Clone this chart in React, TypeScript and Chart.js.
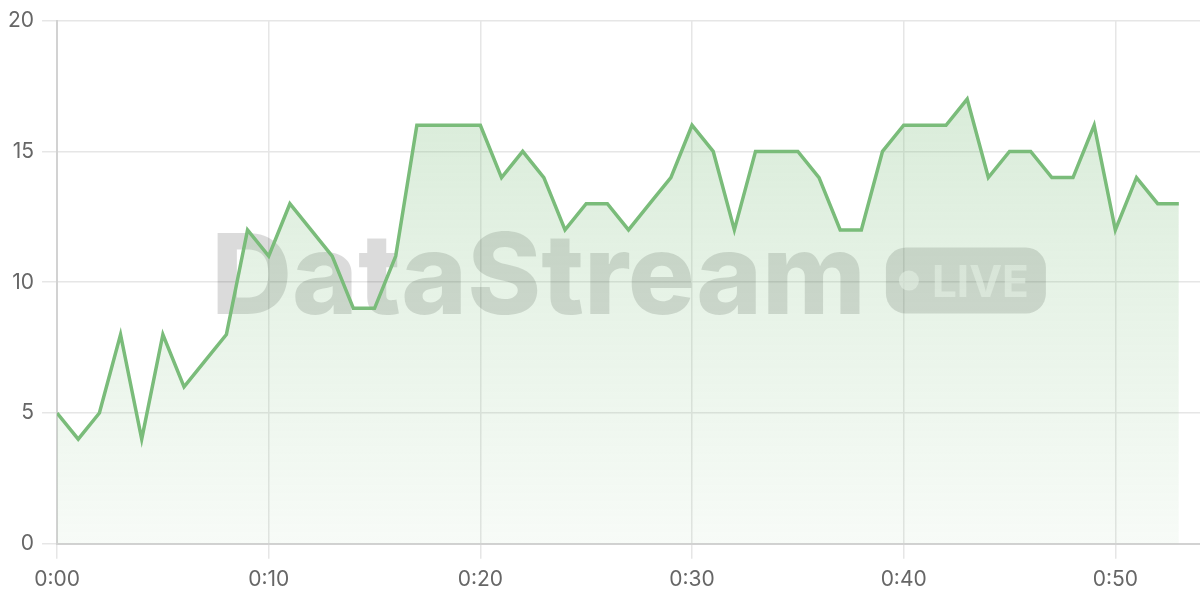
import React, { useEffect, useRef } from "react";
import { Chart, registerables } from "chart.js";

Chart.register(...registerables);

const values: number[] = [
  5, 4, 5, 8, 4, 8, 6, 7, 8, 12,
  11, 13, 12, 11, 9, 9, 11, 16, 16, 16,
  16, 14, 15, 14, 12, 13, 13, 12, 13, 14,
  16, 15, 12, 15, 15, 15, 14, 12, 12, 15,
  16, 16, 16, 17, 14, 15, 15, 14, 14, 16,
  12, 14, 13, 13,
];
const xTickValues: number[] = [0, 10, 20, 30, 40, 50];
const yTickValues: number[] = [0, 5, 10, 15, 20];
const watermarkText = "DataStream";
const liveText = "LIVE";

const FONT = "Inter, 'Noto Sans', sans-serif";

const watermarkPlugin = {
  id: "watermark",
  beforeDatasetsDraw(chart: any) {
    const { ctx, chartArea } = chart;
    const { left, right, top, bottom } = chartArea;
    ctx.save();
    const fs = 112;
    ctx.font = `800 ${fs}px ${FONT}`;
    const tw = ctx.measureText(watermarkText).width;
    const gap = 20;
    const pillW = 160;
    const pillH = 66;
    const total = tw + gap + pillW;
    const cx = (left + right) / 2;
    const baseline = top + (bottom - top) * 0.56;
    const x0 = cx - total / 2;
    ctx.fillStyle = "rgba(0,0,0,0.14)";
    ctx.textBaseline = "alphabetic";
    ctx.textAlign = "left";
    ctx.fillText(watermarkText, x0, baseline);
    // pill
    const px = x0 + tw + gap;
    const py = baseline - pillH;
    const r = 20;
    ctx.beginPath();
    ctx.moveTo(px + r, py);
    ctx.lineTo(px + pillW - r, py);
    ctx.arcTo(px + pillW, py, px + pillW, py + r, r);
    ctx.lineTo(px + pillW, py + pillH - r);
    ctx.arcTo(px + pillW, py + pillH, px + pillW - r, py + pillH, r);
    ctx.lineTo(px + r, py + pillH);
    ctx.arcTo(px, py + pillH, px, py + pillH - r, r);
    ctx.lineTo(px, py + r);
    ctx.arcTo(px, py, px + r, py, r);
    ctx.closePath();
    ctx.fillStyle = "rgba(0,0,0,0.14)";
    ctx.fill();
    ctx.fillStyle = "rgba(255,255,255,0.55)";
    ctx.beginPath();
    ctx.arc(px + 23, py + pillH / 2, 10, 0, Math.PI * 2);
    ctx.fill();
    ctx.font = `bold 44px ${FONT}`;
    ctx.fillText(liveText, px + 46, py + pillH / 2 + 16);
    ctx.restore();
  },
};

export default function App() {
  const canvasRef = useRef<HTMLCanvasElement | null>(null);

  useEffect(() => {
    document.body.style.margin = "0";
    const canvas = canvasRef.current;
    if (!canvas) return;
    const chart = new Chart(canvas, {
      type: "line",
      data: {
        datasets: [
          {
            data: values.map((v, i) => ({ x: i, y: v })),
            borderColor: "rgb(122,188,122)",
            borderWidth: 3.5,
            pointRadius: 0,
            tension: 0,
            fill: true,
            backgroundColor: (context: any) => {
              const c = context.chart;
              const area = c.chartArea;
              if (!area) return "rgba(122,188,122,0.15)";
              const g = c.ctx.createLinearGradient(0, area.top, 0, area.bottom);
              g.addColorStop(0, "rgba(122,188,122,0.32)");
              g.addColorStop(1, "rgba(122,188,122,0.06)");
              return g;
            },
          },
        ],
      },
      options: {
        animation: false,
        responsive: false,
        maintainAspectRatio: false,
        layout: { padding: { top: 13, right: 0, left: 0, bottom: 0 } },
        plugins: {
          legend: { display: false },
          tooltip: { enabled: false },
        },
        scales: {
          x: {
            type: "linear",
            min: 0,
            max: 54,
            afterBuildTicks: (axis: any) => {
              axis.ticks = xTickValues.map((v) => ({ value: v }));
            },
            ticks: {
              color: "#666",
              font: { family: FONT, size: 21 },
              padding: 8,
              maxRotation: 0,
              callback: (v: any) => `0:${String(v).padStart(2, "0")}`,
            },
            grid: { color: "#e6e6e6", lineWidth: 1.5, tickLength: 15 },
            border: { color: "#d2d2d2", width: 2 },
          },
          y: {
            min: 0,
            max: 20,
            afterBuildTicks: (axis: any) => {
              axis.ticks = yTickValues.map((v) => ({ value: v }));
            },
            ticks: {
              color: "#666",
              font: { family: FONT, size: 21 },
              padding: 8,
            },
            grid: { color: "#e6e6e6", lineWidth: 1.5, tickLength: 15 },
            border: { color: "#d2d2d2", width: 2 },
          },
        },
      },
      plugins: [watermarkPlugin],
    } as any);
    return () => chart.destroy();
  }, []);

  return (
    <div style={{ width: 1200, height: 600 }}>
      <canvas ref={canvasRef} width={1200} height={600} style={{ display: "block" }} />
    </div>
  );
}
